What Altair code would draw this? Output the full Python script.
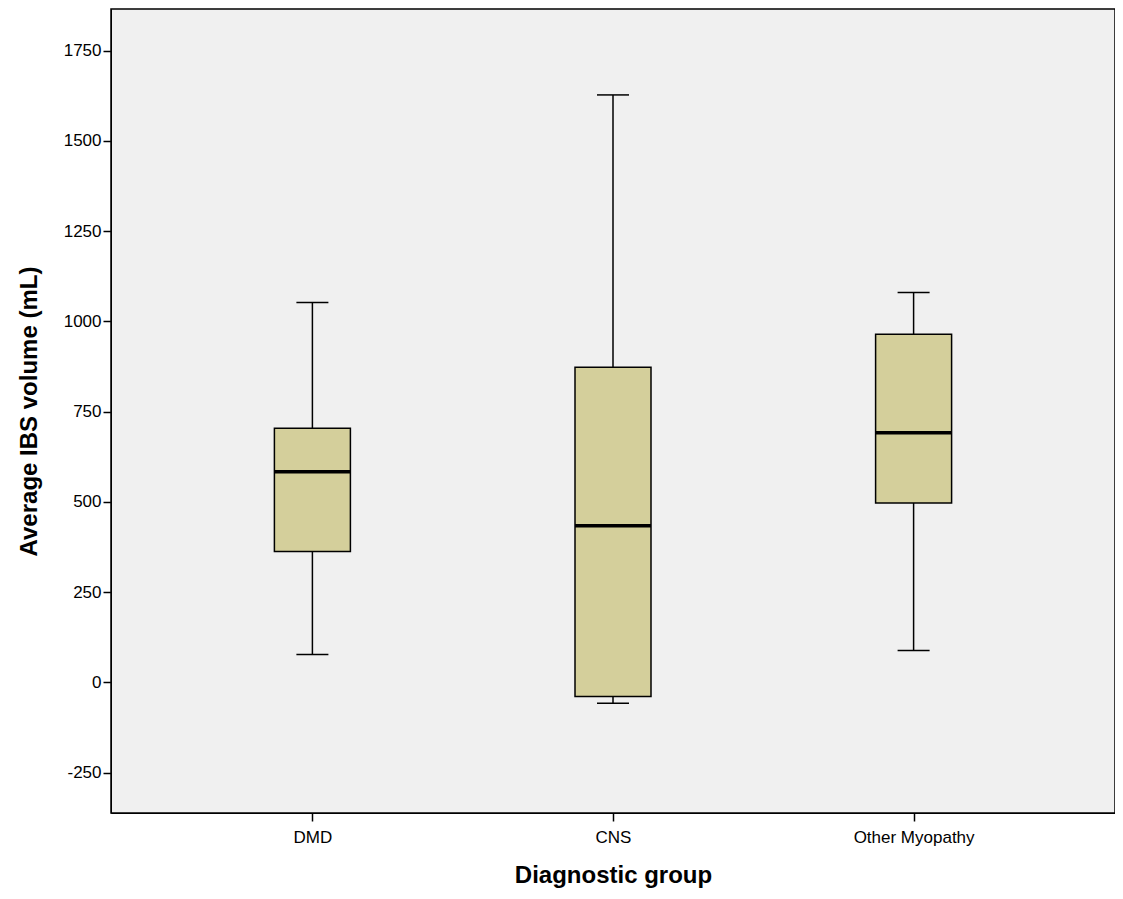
import altair as alt
import pandas as pd

groups = ["DMD", "CNS", "Other Myopathy"]
lows = [77, -58, 88]
q1s = [362, -39, 497]
medians = [583, 434, 691]
q3s = [704, 873, 964]
highs = [1052, 1627, 1080]

df = pd.DataFrame({"g": groups, "lo": lows, "q1": q1s, "med": medians, "q3": q3s, "hi": highs})

x = alt.X("g:N", sort=groups, scale=alt.Scale(type="point", padding=0.67),
          axis=alt.Axis(title="Diagnostic group", labelAngle=0, labelFontSize=17, titleFontSize=24,
                        titleFontWeight="bold", labelFont="Liberation Sans", titleFont="Liberation Sans",
                        domainColor="black", tickColor="black", tickSize=8, tickWidth=1.5, labelPadding=8,
                        titlePadding=18, labelColor="black", titleColor="black"))
ys = alt.Scale(domain=[-362, 1865], nice=False, zero=False)
yax = alt.Axis(title="Average IBS volume (mL)", values=[-250, 0, 250, 500, 750, 1000, 1250, 1500, 1750],
               labelExpr="replace(format(datum.value, 'd'), '−', '-')",
               grid=False, labelFontSize=17, titleFontSize=24, titleFontWeight="bold",
               labelFont="Liberation Sans", titleFont="Liberation Sans", domainColor="black",
               tickColor="black", tickSize=8, tickWidth=1.5, labelColor="black", titleColor="black",
               titlePadding=22)

base = alt.Chart(df).encode(x=x)
w1 = base.mark_rule(color="black", strokeWidth=1.5).encode(y=alt.Y("lo:Q", scale=ys, axis=yax), y2="q1")
w2 = base.mark_rule(color="black", strokeWidth=1.5).encode(y=alt.Y("q3:Q", scale=ys), y2="hi")
capl = base.mark_tick(color="black", size=32, thickness=1.5, opacity=1, orient="horizontal").encode(y=alt.Y("lo:Q", scale=ys))
caph = base.mark_tick(color="black", size=32, thickness=1.5, opacity=1, orient="horizontal").encode(y=alt.Y("hi:Q", scale=ys))
box = base.mark_bar(size=76, color="#d4cf9b", stroke="black", strokeWidth=1.5, opacity=1).encode(y=alt.Y("q1:Q", scale=ys), y2="q3")
med = base.mark_tick(color="black", size=76, thickness=3.5, opacity=1, orient="horizontal").encode(y=alt.Y("med:Q", scale=ys))

chart = alt.layer(w1, w2, capl, caph, box, med).properties(
    width=1004, height=804, autosize=alt.AutoSizeParams(type="none"),
    padding={"left": 103, "top": 1, "right": 0, "bottom": 78}, background="white"
).configure_view(fill="#f0f0f0", stroke="black", strokeWidth=1.5)

chart.save("out.html", embed_options={"renderer": "svg", "actions": False})
